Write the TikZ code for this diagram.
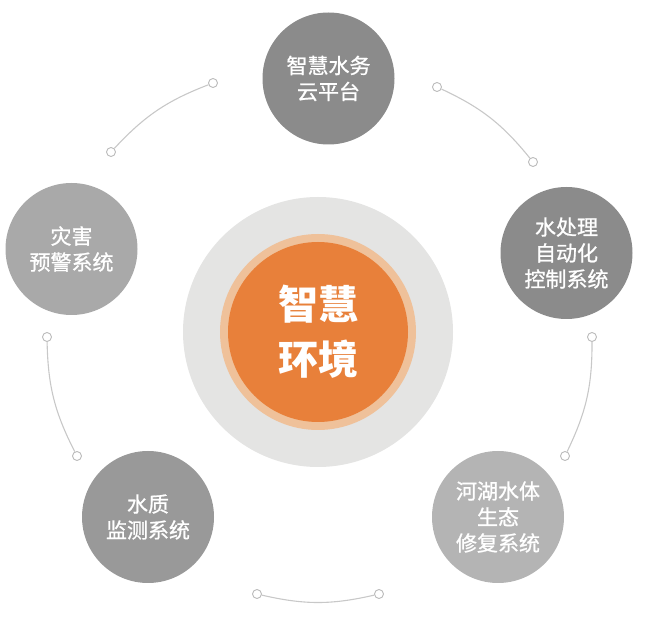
\documentclass[tikz,border=0pt]{standalone}
\usepackage{fontspec}
\newfontfamily\cjk{Noto Sans CJK SC}
\newfontfamily\cjkm[FakeBold=0.9]{Noto Sans CJK SC}
\definecolor{halo}{HTML}{E4E4E3}
\definecolor{ringc}{HTML}{EFC19A}
\definecolor{corec}{HTML}{E8803A}
\definecolor{gA}{HTML}{8B8B8B}
\definecolor{gB}{HTML}{A9A9A9}
\definecolor{gC}{HTML}{999999}
\definecolor{gD}{HTML}{B4B4B4}
\definecolor{linec}{HTML}{C8C8C8}
\definecolor{dotc}{HTML}{BBBBBB}
\tikzset{
  topic/.style={circle,minimum size=132pt,inner sep=0pt,align=center,text=white,
    font=\cjkm\fontsize{21}{26}\selectfont},
  dot/.style={circle,draw=dotc,fill=white,line width=0.9pt,minimum size=9pt,inner sep=0pt},
  link/.style={draw=linec,line width=1.1pt},
}
\begin{document}
\begin{tikzpicture}[x=1pt,y=-1pt]
\useasboundingbox (0,0) rectangle (646,617);
% center
\node[circle,fill=halo,minimum size=270pt,inner sep=0pt] (halo) at (318,332) {};
\node[circle,fill=ringc,minimum size=196pt,inner sep=0pt] (ring) at (halo.center) {};
\node[circle,fill=corec,minimum size=180pt,inner sep=0pt,align=center,text=white,
  font=\cjk\bfseries\fontsize{40}{55}\selectfont] (core) at (halo.center) {智慧\\环境};
% topics
\node[topic,fill=gA] (t1) at (328.5,78.5) {智慧水务\\云平台};
\node[topic,fill=gA] (t2) at (566.5,253) {水处理\\自动化\\控制系统};
\node[topic,fill=gD] (t3) at (498,517) {河湖水体\\生态\\修复系统};
\node[topic,fill=gC] (t4) at (148,517) {水质\\监测系统};
\node[topic,fill=gB] (t5) at (71.5,249) {灾害\\预警系统};
% dots
\node[dot] (a1) at (257,594) {};
\node[dot] (a2) at (379,594) {};
\node[dot] (b1) at (565,456) {};
\node[dot] (b2) at (592,337) {};
\node[dot] (c1) at (533,162) {};
\node[dot] (c2) at (437,87) {};
\node[dot] (d1) at (213,83) {};
\node[dot] (d2) at (111,152) {};
\node[dot] (e1) at (47,337) {};
\node[dot] (e2) at (77,456) {};
% links
\draw[link] (a1) to[bend right=13] (a2);
\draw[link] (b1) to[bend right=13] (b2);
\draw[link] (c1) to[bend right=13] (c2);
\draw[link] (d1) to[bend right=13] (d2);
\draw[link] (e1) to[bend right=13] (e2);
\end{tikzpicture}
\end{document}
